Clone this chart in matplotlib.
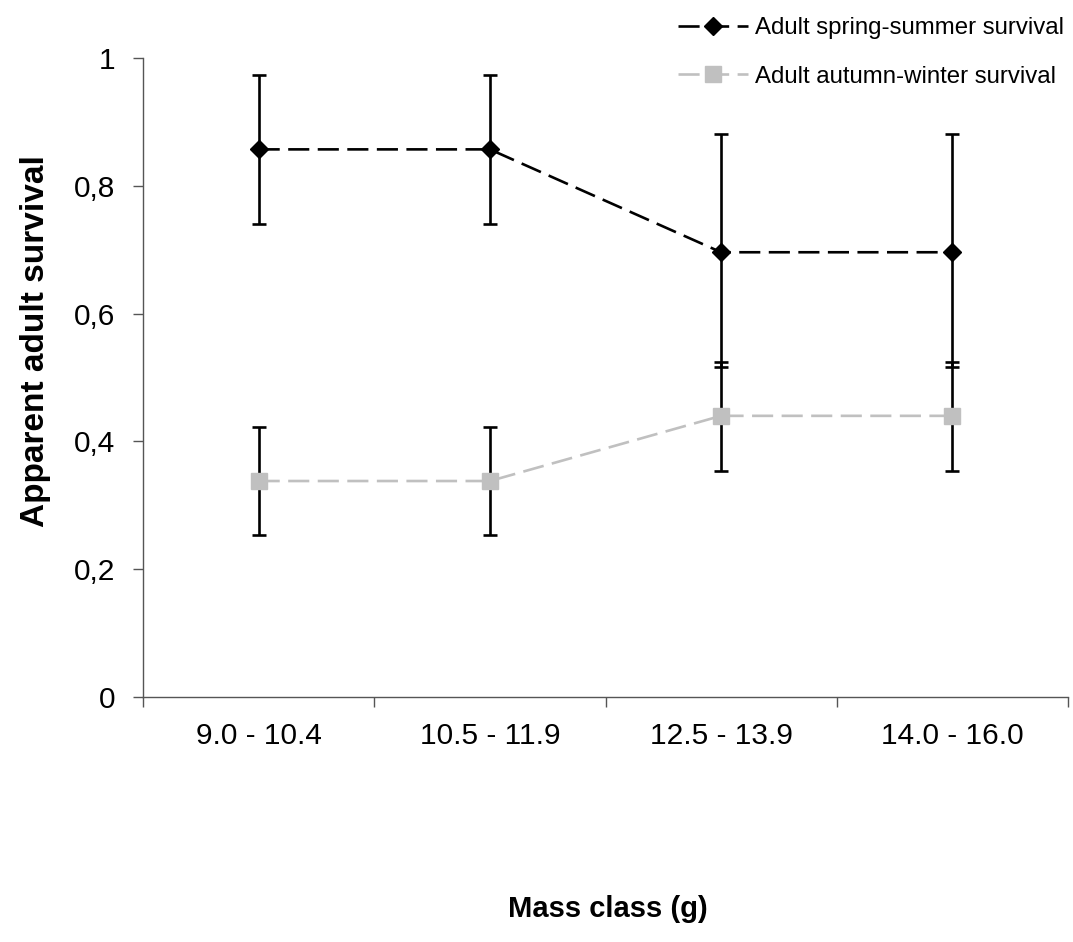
import matplotlib.pyplot as plt
import numpy as np

plt.rcParams['font.family'] = ['Liberation Sans', 'DejaVu Sans']

categories = ['9.0 - 10.4', '10.5 - 11.9', '12.5 - 13.9', '14.0 - 16.0']

spring = [0.857, 0.857, 0.696, 0.696]
spring_hi = [0.974, 0.974, 0.881, 0.881]
spring_lo = [0.740, 0.740, 0.517, 0.517]

autumn = [0.338, 0.338, 0.440, 0.440]
autumn_hi = [0.422, 0.422, 0.525, 0.525]
autumn_lo = [0.254, 0.254, 0.353, 0.353]

yticks = [0, 0.2, 0.4, 0.6, 0.8, 1]
ytick_labels = ['0', '0,2', '0,4', '0,6', '0,8', '1']

fig = plt.figure(figsize=(10.73, 9.42), dpi=100)
ax = fig.add_axes([143 / 1073, 1 - 697 / 942, 925 / 1073, 639 / 942])

x = np.arange(len(categories))

# error bars first, markers go on top of them
for vals, hi, lo in [(spring, spring_hi, spring_lo), (autumn, autumn_hi, autumn_lo)]:
    vals = np.array(vals)
    err = [vals - np.array(lo), np.array(hi) - vals]
    ax.errorbar(x, vals, yerr=err, fmt='none', ecolor='black',
                elinewidth=1.9, capsize=4.8, capthick=1.9, zorder=2)

ax.plot(x, autumn, color='#c0c0c0', lw=1.9, dashes=(8, 3.2),
        marker='s', ms=11.5, mec='#c0c0c0', mfc='#c0c0c0', zorder=3,
        label='Adult autumn-winter survival')
ax.plot(x, spring, color='black', lw=1.9, dashes=(8, 3.2),
        marker='D', ms=9, mec='black', mfc='black', zorder=4,
        label='Adult spring-summer survival')

ax.set_xlim(-0.5, len(categories) - 0.5)
ax.set_ylim(0, 1)

ax.set_yticks(yticks)
ax.set_yticklabels(ytick_labels)
ax.tick_params(axis='y', direction='out', length=7, width=1, color='#555555',
               labelsize=21.5, pad=13)

ax.set_xticks(x)
ax.set_xticklabels(categories)
ax.set_xticks(np.arange(len(categories) + 1) - 0.5, minor=True)
ax.tick_params(axis='x', which='major', length=0, labelsize=21.5, pad=18)
ax.tick_params(axis='x', which='minor', direction='out', length=7, width=1,
               color='#555555')

for side in ['top', 'right']:
    ax.spines[side].set_visible(False)
for side in ['left', 'bottom']:
    ax.spines[side].set_color('#555555')
    ax.spines[side].set_linewidth(1)

fig.text(36 / 1073, 1 - 341 / 942, 'Apparent adult survival', rotation=90,
         ha='center', va='center', fontsize=24, fontweight='bold')
fig.text(608 / 1073, 1 - 909 / 942, 'Mass class (g)',
         ha='center', va='center', fontsize=21, fontweight='bold')

handles, labels = ax.get_legend_handles_labels()
fig.legend(handles[::-1], labels[::-1], loc='upper right',
           bbox_to_anchor=(1.005, 0.997), frameon=False, fontsize=17.3,
           handlelength=2.9, handletextpad=0.3, labelspacing=1.1,
           borderaxespad=0.2)

fig.savefig('out.png', dpi=100)
